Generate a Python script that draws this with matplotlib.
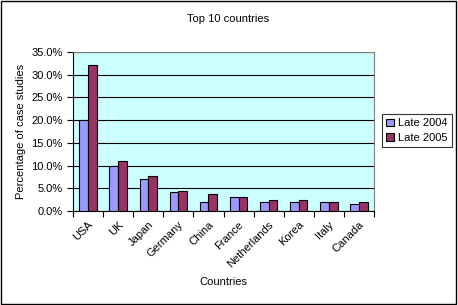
import numpy as np
import matplotlib
matplotlib.use("Agg")
import matplotlib.pyplot as plt
from matplotlib.ticker import PercentFormatter
from matplotlib.patches import Rectangle

plt.rcParams['font.family'] = ['Liberation Sans', 'DejaVu Sans']

# Данные
countries = ["USA", "UK", "Japan", "Germany", "China", "France",
             "Netherlands", "Korea", "Italy", "Canada"]
late_2004 = [20.0, 10.0, 7.0, 4.1, 1.9, 3.0, 1.9, 1.9, 1.9, 1.45]
late_2005 = [32.2, 10.9, 7.7, 4.5, 3.7, 3.0, 2.4, 2.4, 1.9, 1.9]
yticks = [0, 5, 10, 15, 20, 25, 30, 35]

fig = plt.figure(figsize=(4.58, 3.05), dpi=100)
ax = fig.add_axes([73 / 458, 1 - 211 / 305, 301 / 458, 159 / 305])

x = np.arange(len(countries))
w = 0.29
ax.bar(x - w / 2, late_2004, w, color="#9999FF", edgecolor="black", linewidth=0.8,
       label="Late 2004", zorder=3)
ax.bar(x + w / 2, late_2005, w, color="#993366", edgecolor="black", linewidth=0.8,
       label="Late 2005", zorder=3)

ax.set_facecolor("#CCFFFF")
ax.set_xlim(-0.5, len(countries) - 0.5)
ax.set_ylim(0, 35)
ax.set_yticks(yticks)
ax.yaxis.set_major_formatter(PercentFormatter(decimals=1))
ax.grid(axis="y", color="black", linewidth=0.8, zorder=1)

# тики между категориями
ax.set_xticks(np.arange(len(countries) + 1) - 0.5)
ax.set_xticklabels([])
ax.set_xticks(x, minor=True)
ax.set_xticklabels(countries, minor=True, rotation=45, ha="right",
                   rotation_mode="anchor", fontsize=8)
ax.tick_params(axis="x", which="minor", length=0, pad=6)
ax.tick_params(axis="x", which="major", length=4, direction="out", color="black")
ax.tick_params(axis="y", length=4, direction="out", labelsize=8)

for s in ["top", "right"]:
    ax.spines[s].set_color("#808080")
for s in ["left", "bottom"]:
    ax.spines[s].set_color("black")

ax.set_ylabel("Percentage of case studies", fontsize=8, labelpad=4)
ax.set_xlabel("Countries", fontsize=8, labelpad=6)
fig.text(228 / 458, 1 - 19 / 305, "Top 10 countries", ha="center", va="center",
         fontsize=8)

leg = fig.legend(loc="upper left", bbox_to_anchor=(382 / 458, 1 - 114 / 305),
                 fontsize=8, frameon=True, fancybox=False, edgecolor="black",
                 handlelength=0.7, handleheight=0.7, handletextpad=0.3,
                 borderpad=0.4, labelspacing=0.4, borderaxespad=0)
leg.get_frame().set_linewidth(0.8)

fig.patches.append(Rectangle((0.002, 0.003), 0.994, 0.993, transform=fig.transFigure,
                             fill=False, edgecolor="black", linewidth=1))

plt.savefig("out.png", dpi=100)
